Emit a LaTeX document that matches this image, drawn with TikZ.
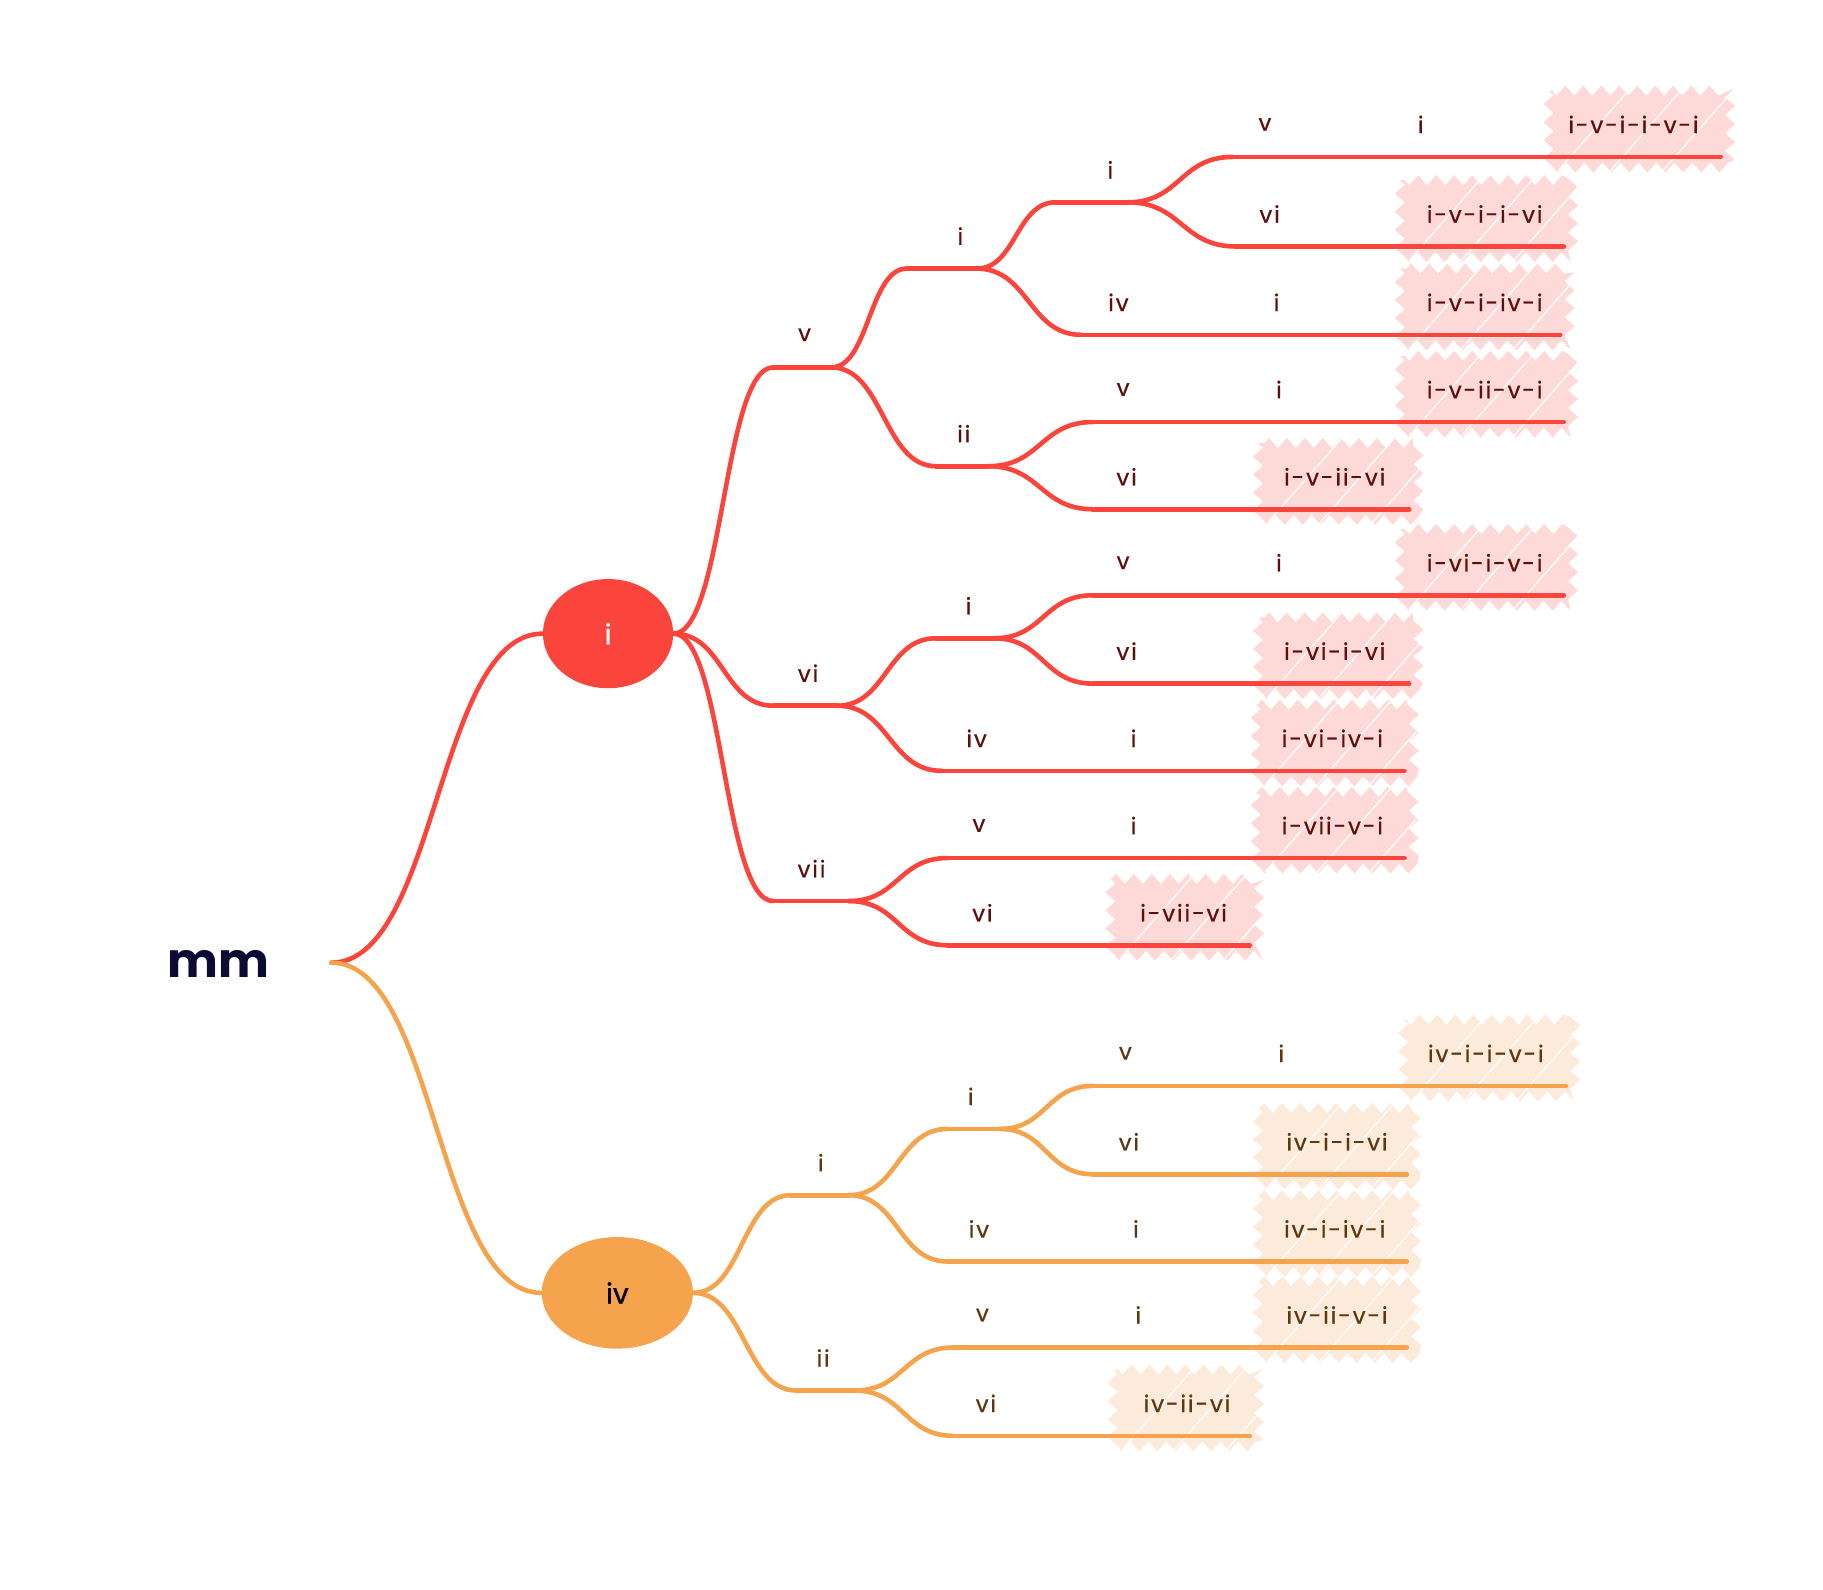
\documentclass[tikz,border=0pt]{standalone}
\usepackage{fontspec}
\setmainfont{Poppins}
\newfontfamily\labelfont[LetterSpace=8, FakeBold=0.6]{Poppins}
\newfontfamily\bubblefont[FakeBold=1.2]{Poppins}
\usetikzlibrary{calc,shapes.geometric,decorations.pathmorphing}

\definecolor{redline}{RGB}{250,68,60}
\definecolor{orgline}{RGB}{245,163,76}
\definecolor{redfill}{RGB}{253,217,216}
\definecolor{orgfill}{RGB}{252,235,218}
\definecolor{redtext}{RGB}{95,15,10}
\definecolor{orgtext}{RGB}{95,55,15}
\definecolor{rootink}{RGB}{12,12,50}

\tikzset{
  x=0.5813pt, y=-0.5813pt,
  lineR/.style={draw=redline, line width=2.3pt, line cap=round},
  lineO/.style={draw=orgline, line width=2.3pt, line cap=round},
  lblR/.style={text=redtext, font=\labelfont\fontsize{11.5}{13}\selectfont, inner sep=0pt},
  lblO/.style={text=orgtext, font=\labelfont\fontsize{11.5}{13}\selectfont, inner sep=0pt},
  hatchR/.style={fill=redfill, decorate, decoration={zigzag, segment length=9pt, amplitude=2.5pt}},
  hatchO/.style={fill=orgfill, decorate, decoration={zigzag, segment length=9pt, amplitude=2.5pt}},
}

% curved connector with horizontal tangents at both ends
\newcommand\lnk[3]{\draw[line#1] let \p1=(#2), \p2=(#3) in
  (#2) .. controls ({(\x1+\x2)/2},\y1) and ({(\x1+\x2)/2},\y2) .. (#3);}

% branch node: name, left x, right x, y, label x, text, colour key
\newcommand\mnode[7]{%
  \coordinate (#1-l) at (#2,#4);
  \coordinate (#1-r) at (#3,#4);
  \draw[line#7] (#1-l) -- (#1-r);
  \node[lbl#7] (#1) at (#5,{#4-28}) {#6};
}

% leaf node with highlighted label
\newcommand\leaf[7]{%
  \coordinate (#1-l) at (#2,#4);
  \coordinate (#1-r) at (#3,#4);
  \begin{scope}
    \path[hatch#7] ({#2-3},{#4-57}) rectangle ({#3+8},{#4+9});
    \clip ({#2-10},{#4-65}) rectangle ({#3+15},{#4+15});
    \foreach \k in {30,75,120} {
      \draw[white, line width=0.6pt] ({#2+\k-25},{#4+12}) -- ({#2+\k+40},{#4-62});
    }
  \end{scope}
  \draw[line#7] (#1-l) -- (#1-r);
  \node[lbl#7] (#1) at (#5,{#4-28}) {#6};
}

\begin{document}
\begin{tikzpicture}
\useasboundingbox (0,0) rectangle (1568,1367);

% root
\node[text=rootink, font=\bfseries\fontsize{24}{26}\selectfont, inner sep=0pt] (mm) at (188,829) {mm};
\coordinate (root) at (285,828);

% main branches
\node[ellipse, fill=redline, minimum width=65.1pt, minimum height=54.6pt, inner sep=0pt,
      text=white, font=\bubblefont\fontsize{14}{16}\selectfont] (I) at (523,545) {i};
\node[ellipse, fill=orgline, minimum width=75.6pt, minimum height=55.8pt, inner sep=0pt,
      text=black, font=\bubblefont\fontsize{14}{16}\selectfont] (IV) at (531,1112) {iv};
\lnk{R}{root}{I.west}
\lnk{O}{root}{IV.west}

% ---- branch i ----
\mnode{A}{665}{715}{316}{692}{v}{R}
\mnode{AA}{780}{840}{231}{826}{i}{R}
\mnode{AAA}{908}{970}{174}{955}{i}{R}
\mnode{AAAA}{1060}{1115}{135}{1088}{v}{R}
\mnode{AAAAx}{1195}{1250}{135}{1222}{i}{R}
\leaf{L1}{1335}{1480}{135}{1405}{i-v-i-i-v-i}{R}
\mnode{AAAB}{1063}{1120}{212}{1092}{vi}{R}
\leaf{L2}{1207}{1345}{212}{1277}{i-v-i-i-vi}{R}
\mnode{AAB}{930}{995}{288}{962}{iv}{R}
\mnode{AABx}{1070}{1125}{288}{1098}{i}{R}
\leaf{L3}{1207}{1342}{288}{1277}{i-v-i-iv-i}{R}
\mnode{AB}{805}{850}{401}{829}{ii}{R}
\mnode{ABA}{940}{990}{363}{966}{v}{R}
\mnode{ABAx}{1075}{1125}{363}{1100}{i}{R}
\leaf{L4}{1207}{1345}{363}{1277}{i-v-ii-v-i}{R}
\mnode{ABB}{940}{995}{438}{969}{vi}{R}
\leaf{L5}{1085}{1212}{438}{1148}{i-v-ii-vi}{R}
\mnode{B}{665}{720}{607}{695}{vi}{R}
\mnode{BA}{805}{855}{549}{833}{i}{R}
\mnode{BAA}{940}{990}{512}{966}{v}{R}
\mnode{BAAx}{1075}{1125}{512}{1100}{i}{R}
\leaf{L6}{1207}{1345}{512}{1277}{i-vi-i-v-i}{R}
\mnode{BAB}{940}{995}{588}{969}{vi}{R}
\leaf{L7}{1085}{1212}{588}{1148}{i-vi-i-vi}{R}
\mnode{BB}{810}{870}{663}{840}{iv}{R}
\mnode{BBx}{950}{1000}{663}{975}{i}{R}
\leaf{L8}{1083}{1208}{663}{1146}{i-vi-iv-i}{R}
\mnode{C}{665}{730}{775}{698}{vii}{R}
\mnode{CA}{815}{870}{738}{842}{v}{R}
\mnode{CAx}{950}{1000}{738}{975}{i}{R}
\leaf{L9}{1083}{1208}{738}{1146}{i-vii-v-i}{R}
\mnode{CB}{815}{875}{813}{845}{vi}{R}
\leaf{L10}{958}{1075}{813}{1018}{i-vii-vi}{R}

\lnk{R}{I.east}{A-l}
\lnk{R}{I.east}{B-l}
\lnk{R}{I.east}{C-l}
\lnk{R}{A-r}{AA-l}
\lnk{R}{A-r}{AB-l}
\lnk{R}{AA-r}{AAA-l}
\lnk{R}{AA-r}{AAB-l}
\lnk{R}{AAA-r}{AAAA-l}
\lnk{R}{AAA-r}{AAAB-l}
\lnk{R}{AAAA-r}{AAAAx-l}
\lnk{R}{AAAAx-r}{L1-l}
\lnk{R}{AAAB-r}{L2-l}
\lnk{R}{AAB-r}{AABx-l}
\lnk{R}{AABx-r}{L3-l}
\lnk{R}{AB-r}{ABA-l}
\lnk{R}{AB-r}{ABB-l}
\lnk{R}{ABA-r}{ABAx-l}
\lnk{R}{ABAx-r}{L4-l}
\lnk{R}{ABB-r}{L5-l}
\lnk{R}{B-r}{BA-l}
\lnk{R}{B-r}{BB-l}
\lnk{R}{BA-r}{BAA-l}
\lnk{R}{BA-r}{BAB-l}
\lnk{R}{BAA-r}{BAAx-l}
\lnk{R}{BAAx-r}{L6-l}
\lnk{R}{BAB-r}{L7-l}
\lnk{R}{BB-r}{BBx-l}
\lnk{R}{BBx-r}{L8-l}
\lnk{R}{C-r}{CA-l}
\lnk{R}{C-r}{CB-l}
\lnk{R}{CA-r}{CAx-l}
\lnk{R}{CAx-r}{L9-l}
\lnk{R}{CB-r}{L10-l}

% ---- branch iv ----
\mnode{D}{680}{730}{1028}{706}{i}{O}
\mnode{DA}{815}{860}{971}{835}{i}{O}
\mnode{DAA}{940}{995}{934}{968}{v}{O}
\mnode{DAAx}{1075}{1130}{934}{1102}{i}{O}
\leaf{M1}{1210}{1347}{934}{1278}{iv-i-i-v-i}{O}
\mnode{DAB}{940}{1000}{1010}{971}{vi}{O}
\leaf{M2}{1085}{1210}{1010}{1150}{iv-i-i-vi}{O}
\mnode{DB}{815}{870}{1085}{842}{iv}{O}
\mnode{DBx}{950}{1005}{1085}{977}{i}{O}
\leaf{M3}{1085}{1210}{1085}{1148}{iv-i-iv-i}{O}
\mnode{E}{685}{735}{1196}{708}{ii}{O}
\mnode{EA}{820}{870}{1159}{845}{v}{O}
\mnode{EAx}{950}{1005}{1159}{979}{i}{O}
\leaf{M4}{1085}{1210}{1159}{1150}{iv-ii-v-i}{O}
\mnode{EB}{820}{880}{1235}{848}{vi}{O}
\leaf{M5}{960}{1075}{1235}{1021}{iv-ii-vi}{O}

\lnk{O}{IV.east}{D-l}
\lnk{O}{IV.east}{E-l}
\lnk{O}{D-r}{DA-l}
\lnk{O}{D-r}{DB-l}
\lnk{O}{DA-r}{DAA-l}
\lnk{O}{DA-r}{DAB-l}
\lnk{O}{DAA-r}{DAAx-l}
\lnk{O}{DAAx-r}{M1-l}
\lnk{O}{DAB-r}{M2-l}
\lnk{O}{DB-r}{DBx-l}
\lnk{O}{DBx-r}{M3-l}
\lnk{O}{E-r}{EA-l}
\lnk{O}{E-r}{EB-l}
\lnk{O}{EA-r}{EAx-l}
\lnk{O}{EAx-r}{M4-l}
\lnk{O}{EB-r}{M5-l}
\end{tikzpicture}
\end{document}
